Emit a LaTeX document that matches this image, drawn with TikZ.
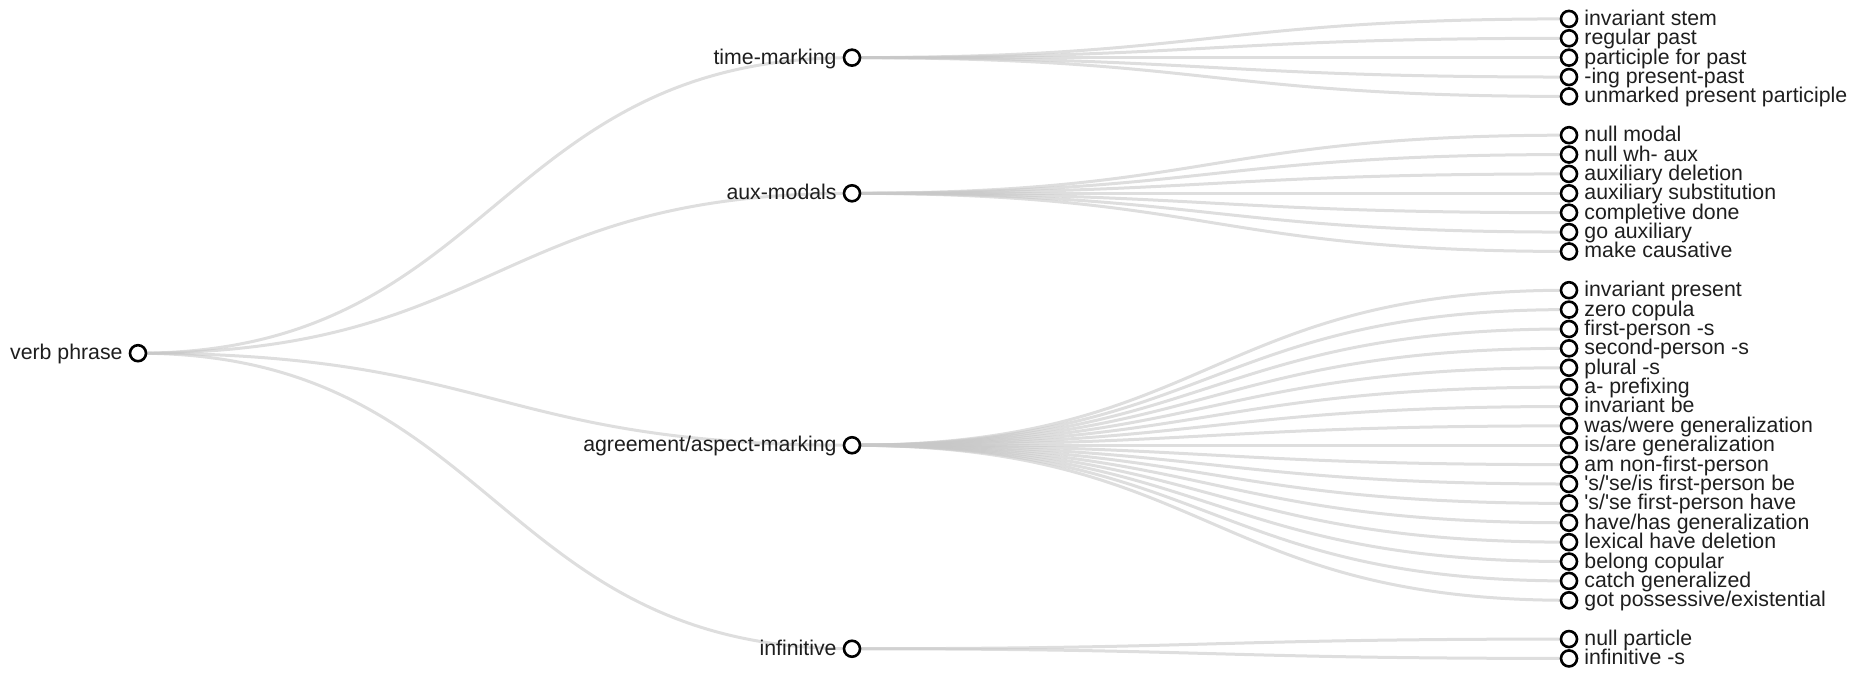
\documentclass[tikz,border=0pt]{standalone}
\usepackage{fontspec}
\setmainfont{Liberation Sans}
\usetikzlibrary{backgrounds}
\definecolor{linkc}{RGB}{200,200,200}
\definecolor{textc}{RGB}{30,30,30}
\begin{document}
\begin{tikzpicture}[x=0.5pt,y=-0.5pt,
 dot/.style={circle,draw=black,line width=1.3pt,fill=white,minimum size=8pt,inner sep=0pt},
 ltxt/.style={anchor=base west,inner sep=0pt,font=\fontsize{10.65}{12}\selectfont,text=textc},
 rtxt/.style={anchor=base east,inner sep=0pt,font=\fontsize{10.65}{12}\selectfont,text=textc},
 link/.style={draw=linkc,draw opacity=0.6,line width=1.5pt},
 curve/.style={out=0,in=180,out distance=179pt,in distance=179pt}]
\useasboundingbox (0,0) rectangle (1870,678);
\def\s{19.38}
\def\yo{18.9}
\def\lx{1569}
\def\mx{852}
% root and level 1
\node[dot] (root) at (138,{\yo+17.25*\s}) {};
\node[rtxt] (rootl) at (123,{\yo+17.25*\s+6.5}) {verb phrase};
\node[dot] (tm) at (\mx,{\yo+2*\s}) {};
\node[rtxt] (tml) at (\mx-15,{\yo+2*\s+6.5}) {time-marking};
\node[dot] (ax) at (\mx,{\yo+9*\s}) {};
\node[rtxt] (axl) at (\mx-15,{\yo+9*\s+6.5}) {aux-modals};
\node[dot] (ag) at (\mx,{\yo+22*\s}) {};
\node[rtxt] (agl) at (\mx-15,{\yo+22*\s+6.5}) {agreement/aspect-marking};
\node[dot] (inf) at (\mx,{\yo+32.5*\s}) {};
\node[rtxt] (infl) at (\mx-15,{\yo+32.5*\s+6.5}) {infinitive};
% leaves
\foreach \t [count=\i from 0] in {{invariant stem},{regular past},{participle for past},{-ing present-past},{unmarked present participle}}{
  \node[dot] (tm\i) at (\lx,{\yo+\i*\s}) {};
  \node[ltxt] (tml\i) at (\lx+15,{\yo+\i*\s+6.5}) {\t};
  \begin{pgfonlayer}{background}
  \draw[link] (tm.center) to[curve] (tm\i.center);
  \end{pgfonlayer}
}
\foreach \t [count=\i from 0] in {{null modal},{null wh- aux},{auxiliary deletion},{auxiliary substitution},{completive done},{go auxiliary},{make causative}}{
  \node[dot] (ax\i) at (\lx,{\yo+(6+\i)*\s}) {};
  \node[ltxt] (axl\i) at (\lx+15,{\yo+(6+\i)*\s+6.5}) {\t};
  \begin{pgfonlayer}{background}
  \draw[link] (ax.center) to[curve] (ax\i.center);
  \end{pgfonlayer}
}
\foreach \t [count=\i from 0] in {{invariant present},{zero copula},{first-person -s},{second-person -s},{plural -s},{a- prefixing},{invariant be},{was/were generalization},{is/are generalization},{am non-first-person},{\textquotesingle s/\textquotesingle se/is first-person be},{\textquotesingle s/\textquotesingle se first-person have},{have/has generalization},{lexical have deletion},{belong copular},{catch generalized},{got possessive/existential}}{
  \node[dot] (ag\i) at (\lx,{\yo+(14+\i)*\s}) {};
  \node[ltxt] (agl\i) at (\lx+15,{\yo+(14+\i)*\s+6.5}) {\t};
  \begin{pgfonlayer}{background}
  \draw[link] (ag.center) to[curve] (ag\i.center);
  \end{pgfonlayer}
}
\foreach \t [count=\i from 0] in {{null particle},{infinitive -s}}{
  \node[dot] (inf\i) at (\lx,{\yo+(32+\i)*\s}) {};
  \node[ltxt] (infl\i) at (\lx+15,{\yo+(32+\i)*\s+6.5}) {\t};
  \begin{pgfonlayer}{background}
  \draw[link] (inf.center) to[curve] (inf\i.center);
  \end{pgfonlayer}
}
\begin{pgfonlayer}{background}
\foreach \c in {tm,ax,ag,inf}{
  \draw[link] (root.center) to[curve] (\c.center);
}
\end{pgfonlayer}
\end{tikzpicture}
\end{document}
